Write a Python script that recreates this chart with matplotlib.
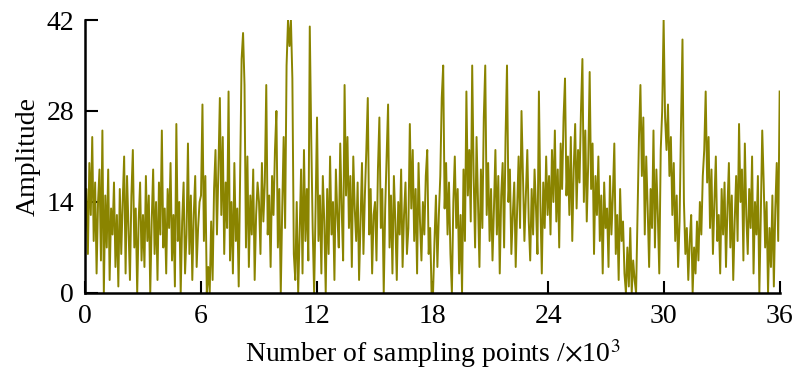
import numpy as np
import matplotlib
matplotlib.use("Agg")
import matplotlib.pyplot as plt

plt.rcParams["font.family"] = ["Liberation Serif", "DejaVu Serif"]
plt.rcParams["mathtext.fontset"] = "stix"

# amplitude, one value every 75 samples, in 3k blocks
block_00 = [9, 16, 6, 20, 12, 24, 8, 17, 3, 14, 19, 5, 25, 0, 15, 7, 19, 2, 13, 9,
            17, 4, 12, 1, 16, 6, 14, 21, 3, 18, 10, 2, 15, 22, 7, 13, 0, 11, 17, 5]
block_03 = [12, 4, 18, 8, 15, 0, 11, 19, 6, 14, 2, 17, 9, 25, 7, 13, 3, 16, 10, 20,
            5, 12, 1, 26, 8, 14, 0, 11, 17, 3, 9, 23, 6, 15, 2, 12, 18, 4, 10, 14]
block_06 = [15, 29, 8, 18, 0, 4, 0, 11, 2, 16, 22, 9, 19, 30, 12, 24, 6, 17, 10, 31,
            5, 14, 3, 20, 8, 13, 1, 18, 36, 40, 32, 7, 21, 4, 15, 9, 19, 2, 12, 17]
block_09 = [14, 6, 20, 11, 17, 32, 9, 15, 4, 18, 12, 22, 28, 7, 16, 0, 13, 24, 10, 35,
            42, 38, 42, 33, 6, 2, 14, 0, 9, 19, 3, 22, 8, 16, 5, 41, 24, 10, 0, 13]
block_12 = [27, 8, 15, 3, 18, 11, 0, 16, 6, 21, 9, 14, 2, 19, 12, 7, 23, 13, 5, 32,
            15, 24, 10, 18, 4, 21, 13, 8, 17, 2, 11, 20, 6, 15, 22, 30, 9, 16, 3, 12]
block_15 = [14, 5, 19, 27, 10, 16, 0, 13, 21, 29, 7, 15, 3, 18, 11, 2, 14, 9, 19, 4,
            12, 17, 6, 10, 26, 13, 22, 8, 16, 3, 20, 11, 5, 14, 9, 18, 22, 6, 10, 0]
block_18 = [0, 8, 15, 4, 12, 18, 30, 35, 13, 20, 9, 17, 6, 0, 14, 21, 10, 16, 3, 12,
            0, 19, 8, 31, 15, 22, 11, 35, 18, 7, 24, 14, 4, 19, 10, 27, 35, 12, 20, 8]
block_21 = [16, 5, 13, 22, 9, 18, 3, 15, 20, 7, 24, 35, 14, 19, 6, 12, 17, 4, 13, 21,
            10, 28, 18, 8, 15, 22, 11, 5, 16, 9, 19, 13, 6, 31, 14, 3, 17, 10, 21, 12]
block_24 = [18, 9, 22, 14, 25, 11, 19, 7, 23, 16, 27, 33, 15, 21, 12, 24, 8, 19, 26, 13,
            22, 17, 28, 36, 14, 25, 11, 20, 34, 16, 23, 6, 18, 12, 21, 8, 15, 3, 17, 10]
block_27 = [13, 4, 18, 9, 15, 23, 6, 12, 2, 16, 8, 11, 3, 0, 7, 1, 10, 0, 5, 2,
            0, 12, 24, 32, 18, 27, 9, 21, 13, 4, 16, 10, 25, 7, 19, 12, 3, 22, 28, 42]
block_30 = [27, 22, 29, 18, 24, 12, 20, 8, 15, 4, 11, 26, 39, 14, 6, 10, 2, 8, 12, 0,
            7, 3, 11, 5, 14, 9, 18, 22, 31, 17, 24, 10, 19, 6, 14, 21, 8, 12, 3, 16]
block_33 = [9, 17, 4, 13, 20, 7, 15, 2, 11, 18, 8, 26, 14, 19, 5, 23, 12, 6, 16, 10,
            21, 3, 14, 9, 18, 0, 12, 25, 17, 7, 14, 0, 10, 4, 15, 1, 13, 20, 8, 31]

amplitude = np.array(block_00 + block_03 + block_06 + block_09 + block_12 + block_15
                     + block_18 + block_21 + block_24 + block_27 + block_30 + block_33,
                     dtype=float)
samples_k = np.linspace(0, 36, len(amplitude))

x_ticks = [0, 6, 12, 18, 24, 30, 36]
y_ticks = [0, 14, 28, 42]

fig = plt.figure(figsize=(7.98, 3.81), dpi=100)
ax = fig.add_axes([0.1065, 0.231, 0.8705, 0.7165])

ax.plot(samples_k, amplitude, color="#8a8400", lw=1.4)

ax.set_xlim(0, 36)
ax.set_ylim(0, 42)
ax.set_xticks(x_ticks)
ax.set_yticks(y_ticks)
ax.set_xlabel(r"Number of sampling points /$\times$10$^3$", fontsize=20, labelpad=6)
ax.set_ylabel("Amplitude", fontsize=20, labelpad=4)

for side in ["top", "right"]:
    ax.spines[side].set_visible(False)
for side in ["left", "bottom"]:
    ax.spines[side].set_linewidth(1.8)
ax.tick_params(direction="in", length=9, width=1.5, labelsize=20, pad=8)

fig.savefig("out.png", dpi=100)
